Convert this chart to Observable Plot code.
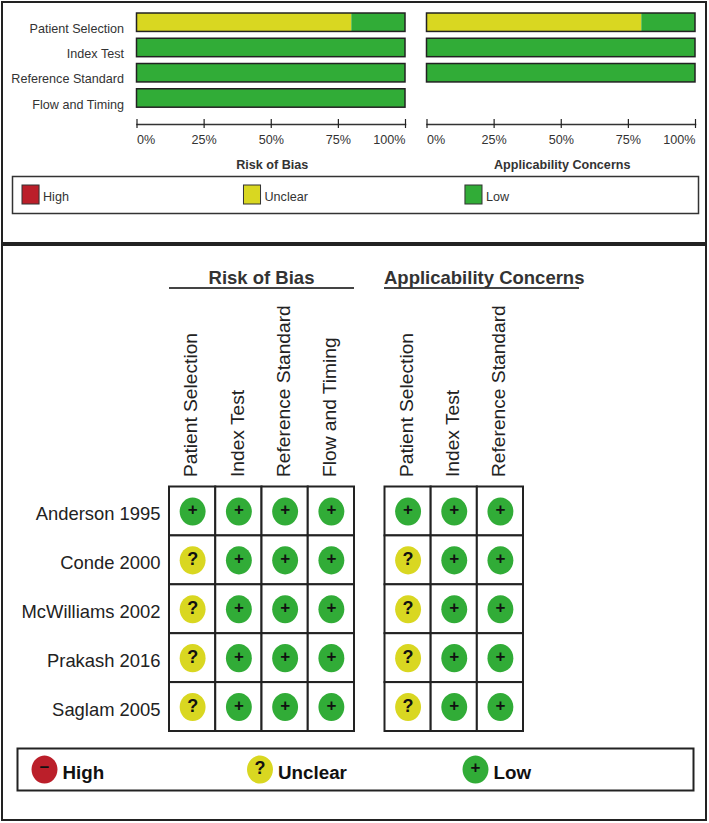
<!DOCTYPE html>
<html><head><meta charset="utf-8">
<script src="https://cdn.jsdelivr.net/npm/d3@7"></script>
<script src="https://cdn.jsdelivr.net/npm/@observablehq/plot@0.6"></script>
<style>
html,body{margin:0;padding:0;background:#fff}
#page{position:relative;width:709px;height:823px;overflow:hidden;font-family:"Liberation Sans",Arial,sans-serif;color:#222}
.box{position:absolute;border:2px solid #222;box-sizing:border-box}
.head{position:absolute;font-weight:bold;font-size:18.5px;color:#333;text-align:center;line-height:22px;height:20px;border-bottom:2px solid #444;box-sizing:content-box}
svg{position:absolute;left:0;top:0;background:transparent}
</style></head><body><div id="page">
<div class="box" style="left:1px;top:1px;width:706px;height:243px"></div>
<div class="box" style="left:1px;top:244px;width:706px;height:577px"></div>
<div class="head" style="left:169px;top:267px;width:185px">Risk of Bias</div>
<div class="head" style="left:384px;top:267px;width:195px;white-space:nowrap;text-align:left">Applicability Concerns</div>
</div>
<script>
const levels = ["High", "Unclear", "Low"];
const colors = ["#bb1f2a", "#d9d721", "#31ac37"];
const glyphs = ["−", "?", "+"];
const biasDomains = ["Patient Selection", "Index Test", "Reference Standard", "Flow and Timing"];
const applicDomains = ["Patient Selection", "Index Test", "Reference Standard"];
const studies = ["Anderson 1995", "Conde 2000", "McWilliams 2002", "Prakash 2016", "Saglam 2005"];
const percentTicks = [0, 25, 50, 75, 100];

// Summary percentages per domain
const biasUnclear = [80, 0, 0, 0];
const biasLow = [20, 100, 100, 100];
const applicUnclear = [80, 0, 0];
const applicLow = [20, 100, 100];

// Judgements per study, one list per domain
const biasPatient = ["Low", "Unclear", "Unclear", "Unclear", "Unclear"];
const biasIndex = ["Low", "Low", "Low", "Low", "Low"];
const biasReference = ["Low", "Low", "Low", "Low", "Low"];
const biasFlow = ["Low", "Low", "Low", "Low", "Low"];
const applicPatient = ["Low", "Unclear", "Unclear", "Unclear", "Unclear"];
const applicIndex = ["Low", "Low", "Low", "Low", "Low"];
const applicReference = ["Low", "Low", "Low", "Low", "Low"];

const page = document.getElementById("page");
const ink = "#222";
const color = {domain: levels, range: colors};
const baseStyle = {fontFamily: "Liberation Sans", background: "transparent", overflow: "visible"};

// Slightly tall dot, as in the reference
const tallDot = {
  draw(ctx, size) {
    const r = Math.sqrt(size / Math.PI), a = r * 0.96, b = r * 1.04, k = 0.5523;
    ctx.moveTo(a, 0);
    ctx.bezierCurveTo(a, k * b, k * a, b, 0, b);
    ctx.bezierCurveTo(-k * a, b, -a, k * b, -a, 0);
    ctx.bezierCurveTo(-a, -k * b, -k * a, -b, 0, -b);
    ctx.bezierCurveTo(k * a, -b, a, -k * b, a, 0);
    ctx.closePath();
  }
};

function summary(domains, unclear, low, title, left, right, showLabels) {
  const rows = domains.flatMap((d, i) => [
    {domain: d, level: "Unclear", value: unclear[i]},
    {domain: d, level: "Low", value: low[i]}
  ]);
  const pct = {x: d => d, frameAnchor: "bottom", dy: 24, text: d => d + "%", fontSize: 12.6, fill: "#333"};
  return Plot.plot({
    width: 709, height: 243,
    marginLeft: left, marginRight: right, marginTop: 10, marginBottom: 124,
    style: baseStyle,
    x: {domain: [0, 100], axis: null},
    y: {domain: biasDomains, range: [9.6, 110.6], round: false, paddingInner: 0.27, paddingOuter: 0.135, axis: null},
    color,
    marks: [
      Plot.barX(rows, Plot.stackX({x: "value", y: "domain", fill: "level", order: levels})),
      Plot.barX(domains, {x: () => 100, y: d => d, fill: "none", stroke: ink, strokeWidth: 1.5}),
      showLabels ? Plot.axisY({anchor: "left", tickSize: 0, tickPadding: 13, dy: 6, fontSize: 12.6, color: "#333", label: null}) : null,
      Plot.frame({anchor: "bottom", dy: 5, stroke: "#333", strokeWidth: 1.5}),
      Plot.axisX({ticks: percentTicks, tickSize: 9, tickFormat: () => "", label: null, stroke: "#222", strokeWidth: 1.2}),
      Plot.text(percentTicks.slice(1, -1), pct),
      Plot.text(percentTicks.slice(0, 1), {...pct, textAnchor: "start"}),
      Plot.text(percentTicks.slice(-1), {...pct, textAnchor: "end"}),
      Plot.text([title], {frameAnchor: "bottom", dx: 1, dy: 49, fontSize: 12.6, fontWeight: "bold", fill: "#333"})
    ]
  });
}

function glyphMarks(data, channels) {
  const of = d => (d.level ?? d);
  return [
    Plot.text(data.filter(d => of(d) === "Unclear"), {...channels, dy: -1, text: () => "?", fontWeight: "bold", fontSize: 18, fill: "#111"}),
    Plot.text(data.filter(d => of(d) !== "Unclear"), {...channels, dy: -2, text: d => glyphs[levels.indexOf(of(d))], fontWeight: "bold", fontSize: 17, fill: "#111"})
  ];
}

function grid(domains, columns, xRange, showStudies) {
  const rows = domains.flatMap((d, i) => studies.map((s, j) => ({domain: d, study: s, level: columns[i][j]})));
  return Plot.plot({
    width: 709, height: 823,
    marginLeft: xRange[0], marginRight: 709 - xRange[1], marginTop: 486.5, marginBottom: 92,
    style: baseStyle,
    x: {domain: domains, padding: 0, round: false, axis: null},
    y: {domain: studies, padding: 0, round: false, axis: null},
    color,
    marks: [
      Plot.cell(rows, {x: "domain", y: "study", fill: "white", stroke: ink, strokeWidth: 2}),
      Plot.dot(rows, {x: "domain", y: "study", r: 13.5, fill: "level", symbol: tallDot}),
      glyphMarks(rows, {x: "domain", y: "study"}),
      Plot.axisX({anchor: "top", tickSize: 0, tickPadding: 10, tickRotate: -90, fontSize: 19.2, color: "#222", label: null, dx: -1.5}),
      showStudies ? Plot.axisY({anchor: "left", tickSize: 0, tickPadding: 9, fontSize: 18.4, color: "#222", dy: 3, label: null}) : null
    ]
  });
}

function summaryLegend() {
  return Plot.plot({
    width: 709, height: 243,
    marginLeft: 12, marginRight: 11, marginTop: 176, marginBottom: 30,
    style: baseStyle,
    x: {domain: levels, type: "band", range: [22, 482], round: false, paddingInner: 0.923, paddingOuter: 0, axis: null},
    color,
    marks: [
      Plot.frame({stroke: "#333", strokeWidth: 1.5}),
      Plot.cell(levels, {x: d => d, fill: d => d, stroke: "#333", strokeWidth: 1, insetTop: 9, insetBottom: 9}),
      Plot.text(levels, {x: d => d, frameAnchor: "middle", dx: 12, dy: 2, text: d => d, textAnchor: "start", fontSize: 12.6, fill: "#333"})
    ]
  });
}

function gridLegend() {
  return Plot.plot({
    width: 709, height: 823,
    marginLeft: 17, marginRight: 16, marginTop: 748, marginBottom: 33,
    style: baseStyle,
    x: {domain: levels, type: "point", range: [44, 475], padding: 0, round: false, axis: null},
    color,
    marks: [
      Plot.frame({stroke: ink, strokeWidth: 2}),
      Plot.dot(levels, {x: d => d, frameAnchor: "middle", r: 13.5, fill: d => d, symbol: tallDot}),
      glyphMarks(levels, {x: d => d, frameAnchor: "middle"}),
      Plot.text(levels, {x: d => d, frameAnchor: "middle", dx: 18, dy: 3, text: d => d, textAnchor: "start", fontSize: 18.8, fontWeight: "bold", fill: "#111"})
    ]
  });
}

page.append(
  summary(biasDomains, biasUnclear, biasLow, "Risk of Bias", 136.5, 304, true),
  summary(applicDomains, applicUnclear, applicLow, "Applicability Concerns", 426.5, 14, false),
  summaryLegend(),
  grid(biasDomains, [biasPatient, biasIndex, biasReference, biasFlow], [169, 354], true),
  grid(applicDomains, [applicPatient, applicIndex, applicReference], [384.5, 523], false),
  gridLegend()
);
</script></body></html>
